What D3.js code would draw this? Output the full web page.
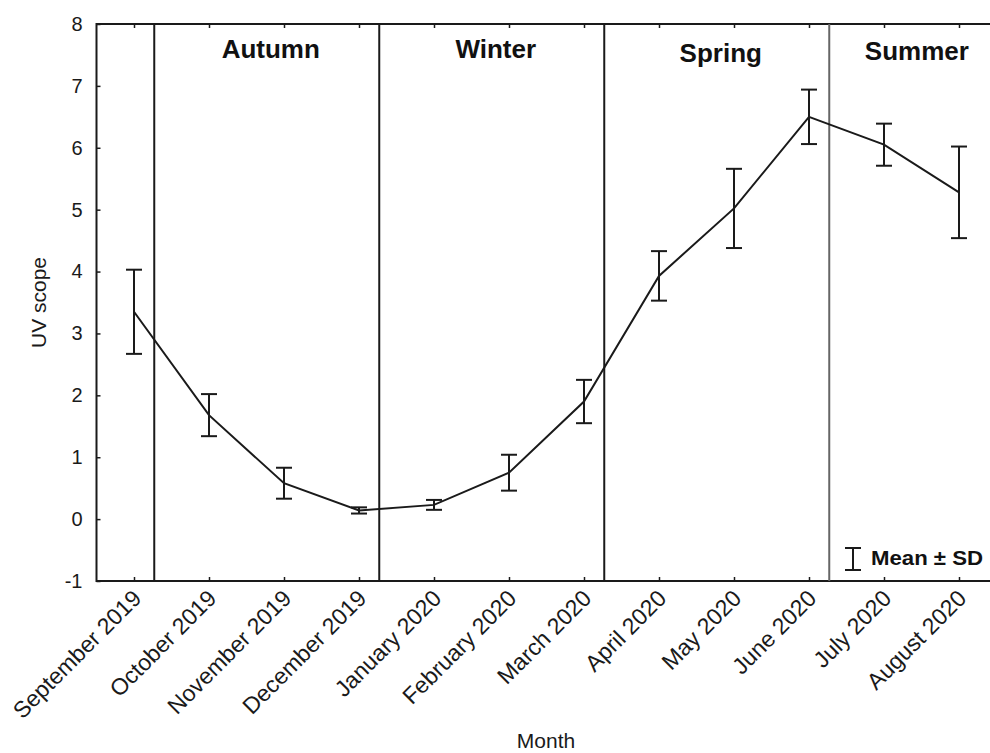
<!DOCTYPE html>
<html><head><meta charset="utf-8">
<script src="https://cdn.jsdelivr.net/npm/d3@7"></script>
<style>body{margin:0;background:#fff}svg{display:block;font-family:"Liberation Sans",Arial,sans-serif}</style>
</head><body><svg id="c" width="990" height="753"></svg>
<script>
const months = ["September 2019","October 2019","November 2019","December 2019","January 2020","February 2020","March 2020","April 2020","May 2020","June 2020","July 2020","August 2020"];
const means = [3.35,1.68,0.58,0.14,0.23,0.75,1.90,3.93,5.02,6.50,6.05,5.28];
const sds   = [0.68,0.34,0.25,0.05,0.08,0.29,0.35,0.40,0.64,0.44,0.34,0.74];
const seasons = ["Autumn","Winter","Spring","Summer"];
const seasonStart = [0.27,3.27,6.27,9.27];
const seasonEnd   = [3.27,6.27,9.27,11.5];
const yTicks = [-1,0,1,2,3,4,5,6,7,8];

const svg = d3.select("#c");
const L = 96.5, R = 996.5, T = 24, B = 581;
const x = d3.scalePoint().domain(months).range([L,R]).padding(0.5);
const xi = d3.scaleLinear().domain([0,11]).range([x(months[0]), x(months[11])]);
const y = d3.scaleLinear().domain([-1,8]).range([B,T]);

// frame
svg.append("rect").attr("x",L).attr("y",T).attr("width",R-L).attr("height",B-T)
  .attr("fill","none").attr("stroke","#1a1a1a").attr("stroke-width",2);

// y axis
const ya = svg.append("g").attr("transform",`translate(${L},0)`)
  .call(d3.axisLeft(y).tickValues(yTicks).tickSize(-4).tickPadding(14).tickFormat(d=>String(d)));
ya.select(".domain").remove();
ya.selectAll("line").attr("stroke","#1a1a1a").attr("stroke-width",1.5);
ya.selectAll("text").attr("font-size",20).attr("fill","#1a1a1a").attr("font-family","Liberation Sans, Arial");

// x axis bottom
const xa = svg.append("g").attr("transform",`translate(0,${B})`)
  .call(d3.axisBottom(x).tickSize(-4).tickFormat(""));
xa.select(".domain").remove();
xa.selectAll("line").attr("stroke","#1a1a1a").attr("stroke-width",1.5);
// top ticks
const xt = svg.append("g").attr("transform",`translate(0,${T})`)
  .call(d3.axisTop(x).tickSize(-4).tickFormat(""));
xt.select(".domain").remove();
xt.selectAll("line").attr("stroke","#1a1a1a").attr("stroke-width",1.5);

// rotated x labels
svg.append("g").selectAll("text").data(months).join("text")
  .attr("transform",d=>`translate(${x(d)+3},${B+13}) rotate(-45)`)
  .attr("text-anchor","end").attr("dy","0.35em")
  .attr("font-size",23).attr("fill","#1a1a1a").text(d=>d);

// separators
svg.append("g").selectAll("line").data(seasonStart).join("line")
  .attr("x1",d=>xi(d)).attr("x2",d=>xi(d)).attr("y1",T).attr("y2",B)
  .attr("stroke",(d,i)=>i===3?"#666":"#1a1a1a").attr("stroke-width",2);

// season labels
const sY = [58,58,62,60];
svg.append("g").selectAll("text").data(seasons).join("text")
  .attr("x",(d,i)=>xi((seasonStart[i]+seasonEnd[i])/2)+4)
  .attr("y",(d,i)=>sY[i])
  .attr("text-anchor","middle").attr("font-weight","bold").attr("font-size",26)
  .attr("fill","#111").text(d=>d);

// line
const line = d3.line().x((d,i)=>x(months[i])).y(d=>y(d));
svg.append("path").datum(means).attr("d",line).attr("fill","none")
  .attr("stroke","#1a1a1a").attr("stroke-width",2);

// error bars
const eb = svg.append("g").attr("stroke","#1a1a1a").attr("stroke-width",2);
means.forEach((m,i)=>{
  const cx = x(months[i]);
  eb.append("line").attr("x1",cx).attr("x2",cx).attr("y1",y(m+sds[i])).attr("y2",y(m-sds[i]));
  eb.append("line").attr("x1",cx-8).attr("x2",cx+8).attr("y1",y(m+sds[i])).attr("y2",y(m+sds[i]));
  eb.append("line").attr("x1",cx-8).attr("x2",cx+8).attr("y1",y(m-sds[i])).attr("y2",y(m-sds[i]));
});

// legend
const lg = svg.append("g").attr("stroke","#1a1a1a").attr("stroke-width",2);
lg.append("line").attr("x1",853).attr("x2",853).attr("y1",548).attr("y2",570);
lg.append("line").attr("x1",845).attr("x2",861).attr("y1",548).attr("y2",548);
lg.append("line").attr("x1",845).attr("x2",861).attr("y1",570).attr("y2",570);
svg.append("text").attr("x",871).attr("y",565).attr("font-weight","bold").attr("font-size",20)
  .attr("fill","#111").attr("textLength",112).attr("lengthAdjust","spacingAndGlyphs").text("Mean ± SD");

// axis titles
svg.append("text").attr("transform",`translate(46,${(T+B)/2}) rotate(-90)`)
  .attr("text-anchor","middle").attr("font-size",21).attr("fill","#1a1a1a").text("UV scope");
svg.append("text").attr("x",546).attr("y",748).attr("text-anchor","middle")
  .attr("font-size",21).attr("fill","#1a1a1a").text("Month");
</script></body></html>
